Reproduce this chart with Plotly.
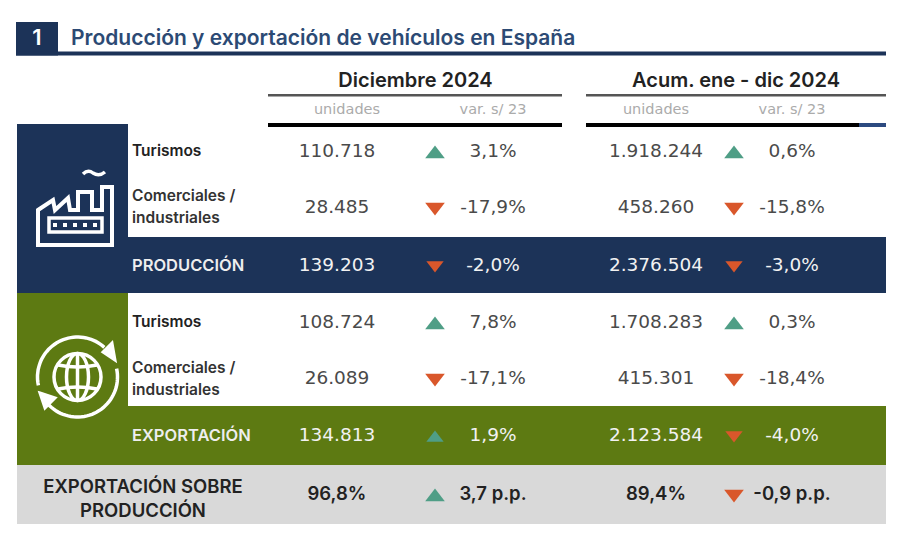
import numpy as np
import plotly.graph_objects as go

# data -------------------------------------------------------------------
TITLE_NUM = "1"
TITLE = "Producción y exportación de vehículos en España"
PERIODS = ["Diciembre 2024", "Acum. ene - dic 2024"]
SUBHEADERS = ["unidades", "var. s/ 23"]

ROWS = ["prod_tur", "prod_com", "prod_total", "exp_tur", "exp_com", "exp_total", "ratio"]
DEC_UNITS = ["110.718", "28.485", "139.203", "108.724", "26.089", "134.813", "96,8%"]
DEC_VAR = ["3,1%", "-17,9%", "-2,0%", "7,8%", "-17,1%", "1,9%", "3,7 p.p."]
DEC_DIR = ["up", "down", "down", "up", "down", "up", "up"]
ACUM_UNITS = ["1.918.244", "458.260", "2.376.504", "1.708.283", "415.301", "2.123.584", "89,4%"]
ACUM_VAR = ["0,6%", "-15,8%", "-3,0%", "0,3%", "-18,4%", "-4,0%", "-0,9 p.p."]
ACUM_DIR = ["up", "down", "down", "up", "down", "down", "down"]

# layout (page pixels) -----------------------------------------------------
NAVY = "#1c3358"
GREEN = "#5d7a12"
GREY = "#d9d9d9"
TITLE_BLUE = "#2c4a74"
UP = "#4f9e86"
DOWN = "#d9572b"
FONT = "Inter"
NUM_FONT = "DejaVu Sans"

ROW_Y = [151, 207, 265, 322, 378, 435, 494]
# white text on the two total bands, near black on the grey one
ROW_COLOR = ["#4a4a4a", "#4a4a4a", "#f2f2f2", "#4a4a4a", "#4a4a4a", "#f2f2f2", "#222222"]
ROW_WEIGHT = [400, 400, 400, 400, 400, 400, 600]
ROW_SIZE = [18.5, 18.5, 18.5, 18.5, 18.5, 18.5, 18.5]
ROW_FONT = [NUM_FONT, NUM_FONT, NUM_FONT, NUM_FONT, NUM_FONT, NUM_FONT, FONT]
ARROW_SIZE = [17, 17, 15, 17, 17, 15, 17]


def rect(x0, y0, x1, y1, color):
    return dict(type="rect", x0=x0, y0=y0, x1=x1, y1=y1, fillcolor=color, line_width=0, layer="below")


def stroke(path, width=4, fill="rgba(0,0,0,0)"):
    return dict(type="path", path=path, line=dict(color="white", width=width), fillcolor=fill)


def arc(cx, cy, r, a0, a1):
    # plotly shape paths have no arc command, so go through a polyline
    ang = np.radians(np.linspace(a0, a1, 40))
    pts = [f"{cx + r * np.cos(a):.1f},{cy + r * np.sin(a):.1f}" for a in ang]
    return "M" + " L".join(pts)


def ellipse(cx, cy, rx, ry):
    return dict(type="circle", x0=cx - rx, x1=cx + rx, y0=cy - ry, y1=cy + ry,
                line=dict(color="white", width=3.5))


shapes = [
    # title block
    rect(16, 22, 58, 55.5, NAVY),
    rect(16, 51.5, 886, 55.5, NAVY),
    # header rules
    rect(268, 94, 562, 96.5, "#555555"),
    rect(586, 94, 886, 96.5, "#555555"),
    rect(268, 123, 562, 127, "#000000"),
    rect(586, 123, 859, 127, "#000000"),
    rect(859, 123, 886, 127, "#2c4a80"),
    # side panels and total bands
    rect(17, 124, 128, 293, NAVY),
    rect(17, 237, 886, 293, NAVY),
    rect(17, 293, 128, 465, GREEN),
    rect(17, 406, 886, 465, GREEN),
    rect(17, 465, 886, 524, GREY),
    # factory icon
    stroke("M38,210 L53,200 L55,210 L68,198 L70,210 L78,210 L78,192 L92,192 L92,210 "
           "L102,210 L102,187 L112,187 L112,245 L38,245 Z"),
    stroke("M49,218 L102,218 L102,232 L49,232 Z", 3.5),
    stroke("M83,174 Q88,169 93,173 Q99,177 105,172", 3.5),
]
for dx in [55, 65, 75, 85, 95]:
    shapes.append(rect(dx - 2, 223, dx + 2, 227, "white") | dict(layer="above"))

# exchange icon
shapes += [
    stroke(arc(77.5, 377, 40, 168, 312), 3.5),
    stroke(arc(77.5, 377, 40, -12, 138), 3.5),
    stroke("M103,352 L112,343 L115,360 Z", 3, "white"),
    stroke("M40,393 L55,398 L45,408 Z", 3, "white"),
    ellipse(77.5, 377, 23.5, 23.5),
    ellipse(77.5, 377, 11, 23.5),
    stroke("M77.5,354 L77.5,400", 3.5),
    stroke("M58,365 Q77.5,369 97,365", 3.5),
    stroke("M58,389 Q77.5,385 97,389", 3.5),
]

fig = go.Figure()


def add_text(xs, ys, texts, size, color="#4a4a4a", weight=400, pos="middle center", family=FONT):
    fig.add_trace(go.Scatter(
        x=xs, y=ys, text=texts, mode="text", textposition=pos,
        textfont=dict(family=family, size=size, color=color, weight=weight),
        hoverinfo="skip", showlegend=False,
    ))


# title and headers
add_text([37], [39.5], [TITLE_NUM], 22, "white", 600)
add_text([71], [39.5], [TITLE], 21, TITLE_BLUE, 600, "middle right")
add_text([415.5, 736], [81.5, 81.5], PERIODS, 20, "#222222", 600)
add_text([347, 493, 656, 792], [110.5] * 4, SUBHEADERS * 2, 14.5, "#ababab", 400, family=NUM_FONT)

# row labels, dark on white
add_text([132, 132], [ROW_Y[0] + 1.5, ROW_Y[3] + 1.5], ["Turismos", "Turismos"], 15.5, "#222222", 600, "middle right")
add_text([132] * 4, [197.5, 219.5, 369.5, 391.5],
         ["Comerciales /", "industriales", "Comerciales /", "industriales"],
         15.5, "#333333", 600, "middle right")
add_text([132], [ROW_Y[2] + 1.5], ["PRODUCCIÓN"], 16.5, "#eeeeee", 600, "middle right")
add_text([132], [ROW_Y[5] + 1.5], ["EXPORTACIÓN"], 16.5, "#eeeeee", 600, "middle right")
add_text([143, 143], [488.5, 512.5], ["EXPORTACIÓN SOBRE", "PRODUCCIÓN"], 18.5, "#222222", 600)

# value columns
for col_x, values in [(337, DEC_UNITS), (493, DEC_VAR), (656, ACUM_UNITS), (792, ACUM_VAR)]:
    for i in range(len(ROWS)):
        add_text([col_x], [ROW_Y[i] + 1], [values[i]], ROW_SIZE[i], ROW_COLOR[i], ROW_WEIGHT[i], family=ROW_FONT[i])

# direction arrows
for col_x, dirs in [(435, DEC_DIR), (734, ACUM_DIR)]:
    fig.add_trace(go.Scatter(
        x=[col_x] * len(dirs),
        y=[y + (3 if d == "up" else 0) for y, d in zip(ROW_Y, dirs)],
        mode="markers",
        marker=dict(
            size=ARROW_SIZE,
            opacity=1,
            line_width=0,
            symbol=["triangle-up" if d == "up" else "triangle-down" for d in dirs],
            color=[UP if d == "up" else DOWN for d in dirs],
        ),
        hoverinfo="skip", showlegend=False,
    ))

fig.update_layout(
    width=900, height=547,
    margin=dict(l=0, r=0, t=0, b=0),
    paper_bgcolor="white", plot_bgcolor="white",
    xaxis=dict(range=[0, 900], visible=False, fixedrange=True),
    yaxis=dict(range=[547, 0], visible=False, fixedrange=True),
    shapes=shapes,
)

fig.write_html("out.html", config={"displayModeBar": False},
               post_script="document.body.style.margin='0';")
